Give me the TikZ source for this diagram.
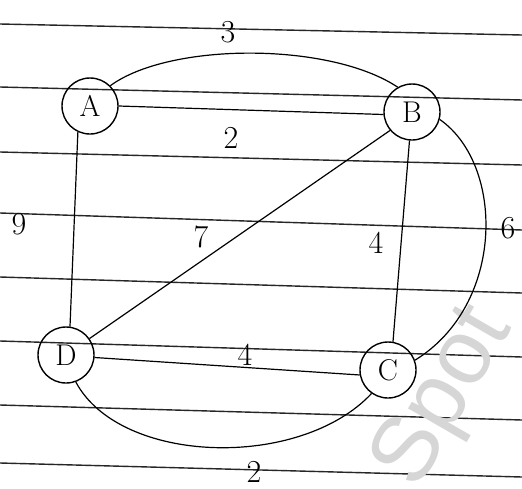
\documentclass[tikz,border=0pt]{standalone}
\usepackage{fontspec}
\setsansfont{Liberation Sans}
\begin{document}
\begin{tikzpicture}[x=1pt,y=-1pt,
  vtx/.style={circle,draw=black,line width=1.4pt,minimum size=56pt,inner sep=0pt,font=\fontsize{30}{30}\selectfont},
  edge/.style={draw=black,line width=1.2pt},
  wlab/.style={font=\fontsize{32}{32}\selectfont,inner sep=0pt},
  paper/.style={draw=black!85,line width=1.4pt}]
\useasboundingbox (0,0) rectangle (522,488);
\fill[white] (0,0) rectangle (522,488);
% ruled paper lines
\foreach \ya/\yb in {24/35,87/100,152/165,213/230,277/293,341/357,405/420,463/477}
  \draw[paper] (0,\ya) -- (522,\yb);
% watermark
\node[rotate=60,text=black!16,font=\sffamily\fontsize{92}{92}\selectfont] (wm) at (445,398) {Spot};
% vertices
\node[vtx] (A) at (90,106) {A};
\node[vtx] (B) at (412,112) {B};
\node[vtx] (D) at (66,355) {D};
\node[vtx] (C) at (388,370) {C};
% edges
\draw[edge] (A.45) .. controls (170,42) and (330,42) .. (B.120);
\draw[edge] (A.0) -- (B.185);
\draw[edge] (A.245) -- (D.82);
\draw[edge] (B.220) -- (D.35);
\draw[edge] (B.265) -- (C.80);
\draw[edge] (B.345) .. controls (505,165) and (505,305) .. (C.20);
\draw[edge] (D.355) -- (C.190);
\draw[edge] (D.290) .. controls (120,465) and (300,470) .. (C.235);
% weights
\node[wlab] (w3) at (228,32) {3};
\node[wlab] (w2a) at (231,138) {2};
\node[wlab] (w9) at (19,224) {9};
\node[wlab] (w7) at (201,237) {7};
\node[wlab] (w4a) at (376,243) {4};
\node[wlab] (w6) at (508,228) {6};
\node[wlab] (w4b) at (245,355) {4};
\node[wlab] (w2b) at (254,472) {2};
\end{tikzpicture}
\end{document}
